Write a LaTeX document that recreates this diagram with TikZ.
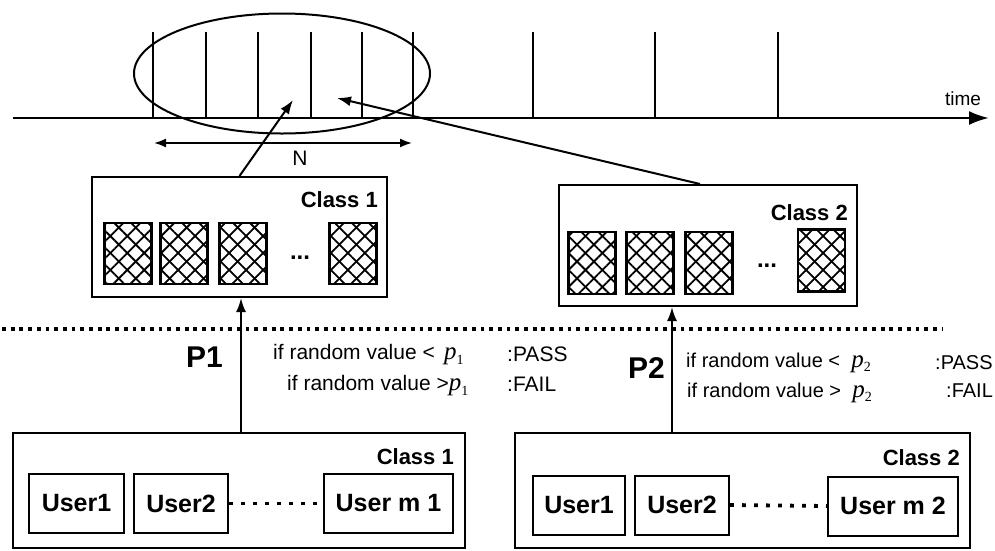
\documentclass[tikz,border=0pt]{standalone}
\usepackage{fontspec}
\setmainfont{Liberation Sans}
\newfontfamily\serifp{Liberation Serif}
\newcommand\pvar[1]{{\serifp\fontsize{25}{25}\selectfont\itshape p}\raisebox{-0.4ex}{\serifp\fontsize{14}{14}\selectfont #1}}
\usetikzlibrary{arrows.meta,patterns.meta,shapes.geometric}
\tikzset{
  arr/.style={line width=2pt,-{Latex[length=14pt,width=10pt]}},
  outerbox/.style={draw,line width=2pt,inner sep=0pt},
  hatchbox/.style={draw,line width=2.2pt,inner sep=0pt,minimum width=47pt,
    pattern={Lines[angle=45,distance=12pt,line width=1.8pt]},
    postaction={pattern={Lines[angle=-45,distance=12pt,line width=1.8pt]}}},
  userbox/.style={draw,line width=2pt,inner sep=0pt,minimum height=59pt,
    font=\bfseries\fontsize{25}{28}\selectfont},
  classlbl/.style={anchor=east,inner sep=0pt,font=\bfseries\fontsize{22}{26}\selectfont},
  plbl/.style={anchor=east,inner sep=0pt,font=\bfseries\fontsize{30}{34}\selectfont},
  cond/.style={anchor=west,inner sep=0pt,font=\fontsize{21}{24}\selectfont},
  condr/.style={anchor=west,inner sep=0pt,font=\fontsize{20}{24}\selectfont},
  dotsline/.style={line width=3.8pt,dash pattern=on 3.8pt off 4.9pt},
  userdots/.style={line width=3.8pt,dash pattern=on 3.8pt off 8.2pt},
}
\begin{document}
\begin{tikzpicture}[x=1pt,y=-1pt]
\useasboundingbox (0,0) rectangle (995,550);

% timeline
\coordinate (t0) at (13,118);
\coordinate (t1) at (989,118);
\draw[line width=2.5pt,-{Latex[length=20pt,width=14pt]}] (t0) -- (t1);
\foreach \x in {153,206,258,311,362,413,533,655,778}
  \draw[line width=2pt] (\x,118) -- (\x,32);
\node[anchor=south,inner sep=0pt,font=\fontsize{19}{22}\selectfont] (time) at (963,106) {time};

% window ellipse
\node[ellipse,draw,line width=2pt,minimum width=296pt,minimum height=120pt,inner sep=0pt] (win) at (282,73.5) {};

% N arrow
\coordinate (n0) at (154,143);
\coordinate (n1) at (412,143);
\draw[line width=1.8pt,{Latex[length=12pt,width=9pt]}-{Latex[length=12pt,width=9pt]}] (n0) -- (n1);
\node[font=\fontsize{21}{24}\selectfont,inner sep=0pt] (N) at (300,158) {N};

% top class boxes
\node[outerbox,minimum width=295pt,minimum height=120pt] (tb1) at (239.5,237) {};
\node[classlbl] (tc1) at (378,200) {Class 1};
\node[hatchbox,minimum height=61pt] (h11) at (128,253.5) {};
\node[hatchbox,minimum height=61pt] (h12) at (184,253.5) {};
\node[hatchbox,minimum height=61pt] (h13) at (243,253.5) {};
\node[font=\bfseries\fontsize{24}{26}\selectfont,inner sep=0pt] (d1) at (300,258) {...};
\node[hatchbox,minimum height=61pt] (h14) at (353,253.5) {};

\node[outerbox,minimum width=298pt,minimum height=121pt] (tb2) at (708,245.5) {};
\node[classlbl] (tc2) at (848,213) {Class 2};
\node[hatchbox,minimum height=62pt] (h21) at (592,263) {};
\node[hatchbox,minimum height=62pt] (h22) at (650,263) {};
\node[hatchbox,minimum height=62pt] (h23) at (709,263) {};
\node[font=\bfseries\fontsize{24}{26}\selectfont,inner sep=0pt] (d2) at (767,266) {...};
\node[hatchbox,minimum height=62pt] (h24) at (821.5,260.5) {};

% arrows into window
\coordinate (w1) at (293,100);
\coordinate (w2) at (337,98);
\draw[arr] (tb1.north) -- (w1);
\draw[arr] ([xshift=-8pt]tb2.north) -- (w2);

% dotted separator
\coordinate (s0) at (2,329);
\coordinate (s1) at (942,329);
\draw[dotsline] (s0) -- (s1);

% bottom boxes
\node[outerbox,minimum width=452pt,minimum height=115pt] (bb1) at (239,490.5) {};
\node[classlbl] (bc1) at (454,457) {Class 1};
\node[userbox,minimum width=95pt] (u11) at (76.5,503.5) {User1};
\node[userbox,minimum width=94pt] (u12) at (181,503.5) {User2};
\node[userbox,minimum width=129pt] (u1m) at (388.5,503.5) {User m 1};
\draw[userdots] (u12.east) -- (u1m.west);

\node[outerbox,minimum width=455pt,minimum height=115pt] (bb2) at (742.5,490.5) {};
\node[classlbl] (bc2) at (960,458) {Class 2};
\node[userbox,minimum width=92pt] (u21) at (579,505) {User1};
\node[userbox,minimum width=94pt] (u22) at (682,505) {User2};
\node[userbox,minimum width=130pt] (u2m) at (893,506) {User m 2};
\draw[userdots] (u22.east) -- (u2m.west);

% upward arrows
\coordinate (a1) at (241,0);
\coordinate (a2) at (672,0);
\draw[arr] (a1 |- bb1.north) -- (a1 |- tb1.south);
\draw[arr] (a2 |- bb2.north) -- (a2 |- tb2.south);

% labels
\node[plbl] (p1) at (223,357) {P1};
\node[plbl] (p2) at (665,368) {P2};

\node[cond] (c11) at (273,355) {if random value < \,\pvar{1}};
\node[cond] (c12) at (507,354) {:PASS};
\node[cond] (c13) at (287,386) {if random value >\pvar{1}};
\node[cond] (c14) at (507,384) {:FAIL};

\node[condr] (c21) at (686,363) {if random value < \ \pvar{2}};
\node[condr] (c22) at (935,363) {:PASS};
\node[condr] (c23) at (687,393) {if random value > \ \pvar{2}};
\node[condr] (c24) at (946,391) {:FAIL};
\end{tikzpicture}
\end{document}
